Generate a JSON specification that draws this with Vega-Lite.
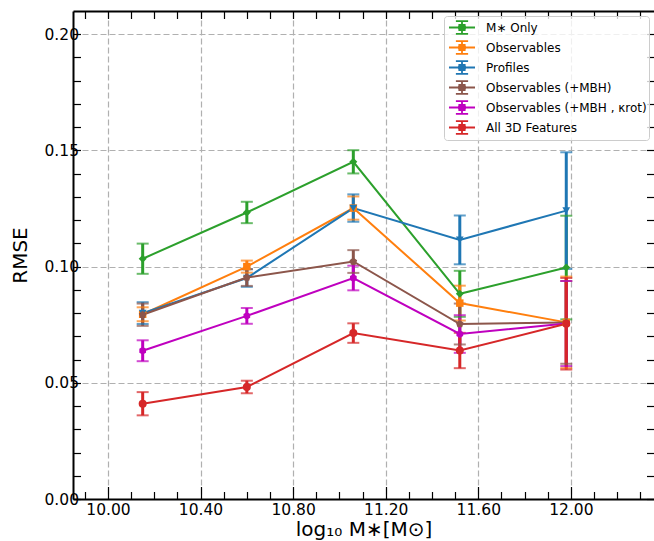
{
  "$schema": "https://vega.github.io/schema/vega-lite/v6.json",
  "width": 581,
  "height": 488,
  "autosize": {"type": "none"},
  "padding": {"left": 73, "top": 11, "right": 0, "bottom": 42},
  "background": "white",
  "config": {
    "view": {"stroke": null},
    "font": "DejaVu Sans",
    "axis": {
      "labelFont": "DejaVu Sans",
      "titleFont": "DejaVu Sans",
      "labelColor": "black",
      "titleColor": "black",
      "titleFontWeight": "normal",
      "labelFontSize": 15.5,
      "titleFontSize": 20,
      "domainColor": "black",
      "domainWidth": 2,
      "tickColor": "black",
      "tickWidth": 1.2,
      "labelFlush": false,
      "labelOverlap": false,
      "gridColor": "#b0b0b0",
      "gridDash": [6, 3],
      "gridWidth": 1.2
    }
  },
  "data": {
    "values": [
      {"model": "M∗ Only", "x": 10.15, "rmse": 0.1034, "lo": 0.0969, "hi": 0.1099},
      {"model": "M∗ Only", "x": 10.60, "rmse": 0.1233, "lo": 0.1187, "hi": 0.1279},
      {"model": "M∗ Only", "x": 11.06, "rmse": 0.1451, "lo": 0.1401, "hi": 0.1501},
      {"model": "M∗ Only", "x": 11.52, "rmse": 0.0883, "lo": 0.0784, "hi": 0.0982},
      {"model": "M∗ Only", "x": 11.98, "rmse": 0.0996, "lo": 0.0773, "hi": 0.1219},
      {"model": "Observables", "x": 10.15, "rmse": 0.0795, "lo": 0.0765, "hi": 0.0825},
      {"model": "Observables", "x": 10.60, "rmse": 0.1000, "lo": 0.0974, "hi": 0.1026},
      {"model": "Observables", "x": 11.06, "rmse": 0.1252, "lo": 0.1202, "hi": 0.1302},
      {"model": "Observables", "x": 11.52, "rmse": 0.0843, "lo": 0.0768, "hi": 0.0918},
      {"model": "Observables", "x": 11.98, "rmse": 0.0760, "lo": 0.0563, "hi": 0.0957},
      {"model": "Profiles", "x": 10.15, "rmse": 0.0800, "lo": 0.0753, "hi": 0.0847},
      {"model": "Profiles", "x": 10.60, "rmse": 0.0951, "lo": 0.0913, "hi": 0.0989},
      {"model": "Profiles", "x": 11.06, "rmse": 0.1252, "lo": 0.1193, "hi": 0.1311},
      {"model": "Profiles", "x": 11.52, "rmse": 0.1115, "lo": 0.1010, "hi": 0.1220},
      {"model": "Profiles", "x": 11.98, "rmse": 0.1241, "lo": 0.0990, "hi": 0.1492},
      {"model": "Observables (+MBH)", "x": 10.15, "rmse": 0.0793, "lo": 0.0745, "hi": 0.0841},
      {"model": "Observables (+MBH)", "x": 10.60, "rmse": 0.0953, "lo": 0.0917, "hi": 0.0989},
      {"model": "Observables (+MBH)", "x": 11.06, "rmse": 0.1022, "lo": 0.0973, "hi": 0.1071},
      {"model": "Observables (+MBH)", "x": 11.52, "rmse": 0.0753, "lo": 0.0665, "hi": 0.0841},
      {"model": "Observables (+MBH)", "x": 11.98, "rmse": 0.0760, "lo": 0.0582, "hi": 0.0938},
      {"model": "Observables (+MBH , κrot)", "x": 10.15, "rmse": 0.0638, "lo": 0.0593, "hi": 0.0683},
      {"model": "Observables (+MBH , κrot)", "x": 10.60, "rmse": 0.0788, "lo": 0.0754, "hi": 0.0822},
      {"model": "Observables (+MBH , κrot)", "x": 11.06, "rmse": 0.0951, "lo": 0.0898, "hi": 0.1004},
      {"model": "Observables (+MBH , κrot)", "x": 11.52, "rmse": 0.0710, "lo": 0.0629, "hi": 0.0791},
      {"model": "Observables (+MBH , κrot)", "x": 11.98, "rmse": 0.0755, "lo": 0.0572, "hi": 0.0938},
      {"model": "All 3D Features", "x": 10.15, "rmse": 0.0410, "lo": 0.0360, "hi": 0.0460},
      {"model": "All 3D Features", "x": 10.60, "rmse": 0.0482, "lo": 0.0455, "hi": 0.0509},
      {"model": "All 3D Features", "x": 11.06, "rmse": 0.0714, "lo": 0.0672, "hi": 0.0756},
      {"model": "All 3D Features", "x": 11.52, "rmse": 0.0639, "lo": 0.0563, "hi": 0.0715},
      {"model": "All 3D Features", "x": 11.98, "rmse": 0.0754, "lo": 0.0557, "hi": 0.0951}
    ]
  },
  "layer": [
    {
      "mark": {"type": "rule", "strokeWidth": 3},
      "encoding": {
        "x": {
          "field": "x", "type": "quantitative",
          "scale": {"domain": [9.849, 12.359], "nice": false, "zero": false},
          "axis": {
            "orient": "bottom",
            "values": [9.9, 10, 10.1, 10.2, 10.3, 10.4, 10.5, 10.6, 10.7, 10.8, 10.9, 11, 11.1, 11.2, 11.3, 11.4, 11.5, 11.6, 11.7, 11.8, 11.9, 12, 12.1, 12.2, 12.3],
            "labelExpr": "round(datum.value*10) % 4 == 0 ? format(datum.value, '.2f') : ''",
            "tickSize": {"condition": {"test": "round(datum.value*10) % 4 == 0", "value": -12.5}, "value": -7.5},
            "grid": true,
            "gridOpacity": {"condition": {"test": "round(datum.value*10) % 4 == 0", "value": 1}, "value": 0},
            "labelPadding": 16,
            "title": "log₁₀ M∗[M⊙]",
            "titlePadding": -4
          }
        },
        "y": {
          "field": "lo", "type": "quantitative",
          "scale": {"domain": [0, 0.21], "nice": false, "zero": false},
          "axis": {
            "orient": "left",
            "values": [0, 0.01, 0.02, 0.03, 0.04, 0.05, 0.06, 0.07, 0.08, 0.09, 0.1, 0.11, 0.12, 0.13, 0.14, 0.15, 0.16, 0.17, 0.18, 0.19, 0.2],
            "labelExpr": "round(datum.value*100) % 5 == 0 ? format(datum.value, '.2f') : ''",
            "tickSize": -7.5,
            "grid": true,
            "gridOpacity": {"condition": {"test": "round(datum.value*100) % 5 == 0", "value": 1}, "value": 0},
            "labelPadding": 2,
            "title": "RMSE",
            "titlePadding": 13
          }
        },
        "y2": {"field": "hi"},
        "color": {
          "field": "model", "type": "nominal",
          "scale": {
            "domain": ["M∗ Only", "Observables", "Profiles", "Observables (+MBH)", "Observables (+MBH , κrot)", "All 3D Features"],
            "range": ["#2ca02c", "#ff7f0e", "#1f77b4", "#8c564b", "#bf00bf", "#d62728"]
          },
          "legend": {
            "title": null, "orient": "top-right", "offset": 5, "padding": 2,
            "fillColor": "rgba(255,255,255,0.8)", "strokeColor": "#cccccc", "cornerRadius": 3,
            "labelFont": "DejaVu Sans", "labelFontSize": 12, "labelColor": "black", "labelLimit": 400,
            "symbolType": "M-1.53,0L1.53,0M0,-0.75L0,0.75M-0.72,-0.75L0.72,-0.75M-0.72,0.75L0.72,0.75M-0.42,-0.3L0.42,-0.3M-0.46,-0.1L0.46,-0.1M-0.46,0.1L0.46,0.1M-0.42,0.3L0.42,0.3",
            "symbolSize": 289, "rowPadding": -2, "labelOffset": 14.5, "symbolOffset": 6.5,
            "symbolStrokeWidth": 1.8
          }
        }
      }
    },
    {
      "mark": {"type": "tick", "orient": "horizontal", "size": 12, "thickness": 2},
      "encoding": {
        "x": {
          "field": "x", "type": "quantitative",
          "axis": {
            "orient": "top",
            "values": [9.9, 10, 10.1, 10.2, 10.3, 10.4, 10.5, 10.6, 10.7, 10.8, 10.9, 11, 11.1, 11.2, 11.3, 11.4, 11.5, 11.6, 11.7, 11.8, 11.9, 12, 12.1, 12.2, 12.3],
            "labels": false,
            "tickSize": -7.5,
            "grid": false,
            "title": null
          }
        },
        "y": {
          "field": "lo", "type": "quantitative",
          "axis": {
            "orient": "right",
            "values": [0, 0.01, 0.02, 0.03, 0.04, 0.05, 0.06, 0.07, 0.08, 0.09, 0.1, 0.11, 0.12, 0.13, 0.14, 0.15, 0.16, 0.17, 0.18, 0.19, 0.2],
            "labels": false,
            "domain": false,
            "tickSize": -7.5,
            "grid": false,
            "title": null
          }
        },
        "color": {"field": "model", "type": "nominal", "legend": null}
      }
    },
    {
      "mark": {"type": "tick", "orient": "horizontal", "size": 12, "thickness": 2},
      "encoding": {
        "x": {"field": "x", "type": "quantitative", "axis": null},
        "y": {"field": "hi", "type": "quantitative", "axis": null},
        "color": {"field": "model", "type": "nominal", "legend": null}
      }
    },
    {
      "mark": {"type": "line", "strokeWidth": 2},
      "encoding": {
        "x": {"field": "x", "type": "quantitative", "axis": null},
        "y": {"field": "rmse", "type": "quantitative", "axis": null},
        "color": {"field": "model", "type": "nominal", "legend": null}
      }
    },
    {
      "transform": [{"filter": "datum.model == 'M∗ Only'"}],
      "mark": {"type": "point", "filled": true, "size": 64, "opacity": 1, "shape": "diamond"},
      "encoding": {
        "x": {"field": "x", "type": "quantitative", "axis": null},
        "y": {"field": "rmse", "type": "quantitative", "axis": null},
        "color": {"field": "model", "type": "nominal", "legend": null}
      }
    },
    {
      "transform": [{"filter": "datum.model == 'Observables'"}],
      "mark": {"type": "point", "filled": true, "size": 56, "opacity": 1, "shape": "square"},
      "encoding": {
        "x": {"field": "x", "type": "quantitative", "axis": null},
        "y": {"field": "rmse", "type": "quantitative", "axis": null},
        "color": {"field": "model", "type": "nominal", "legend": null}
      }
    },
    {
      "transform": [{"filter": "datum.model == 'Profiles'"}],
      "mark": {"type": "point", "filled": true, "size": 60, "opacity": 1, "shape": "triangle-down"},
      "encoding": {
        "x": {"field": "x", "type": "quantitative", "axis": null},
        "y": {"field": "rmse", "type": "quantitative", "axis": null},
        "color": {"field": "model", "type": "nominal", "legend": null}
      }
    },
    {
      "transform": [{"filter": "datum.model == 'Observables (+MBH)'"}],
      "mark": {"type": "point", "filled": true, "size": 64, "opacity": 1, "shape": "M0,-1L0.951,-0.309L0.588,0.809L-0.588,0.809L-0.951,-0.309Z"},
      "encoding": {
        "x": {"field": "x", "type": "quantitative", "axis": null},
        "y": {"field": "rmse", "type": "quantitative", "axis": null},
        "color": {"field": "model", "type": "nominal", "legend": null}
      }
    },
    {
      "transform": [{"filter": "datum.model == 'Observables (+MBH , κrot)'"}],
      "mark": {"type": "point", "filled": true, "size": 60, "opacity": 1, "shape": "M0,-1L0.866,-0.5L0.866,0.5L0,1L-0.866,0.5L-0.866,-0.5Z"},
      "encoding": {
        "x": {"field": "x", "type": "quantitative", "axis": null},
        "y": {"field": "rmse", "type": "quantitative", "axis": null},
        "color": {"field": "model", "type": "nominal", "legend": null}
      }
    },
    {
      "transform": [{"filter": "datum.model == 'All 3D Features'"}],
      "mark": {"type": "point", "filled": true, "size": 64, "opacity": 1, "shape": "circle"},
      "encoding": {
        "x": {"field": "x", "type": "quantitative", "axis": null},
        "y": {"field": "rmse", "type": "quantitative", "axis": null},
        "color": {"field": "model", "type": "nominal", "legend": null}
      }
    }
  ],
  "resolve": {
    "axis": {"x": "independent", "y": "independent"}
  }
}
